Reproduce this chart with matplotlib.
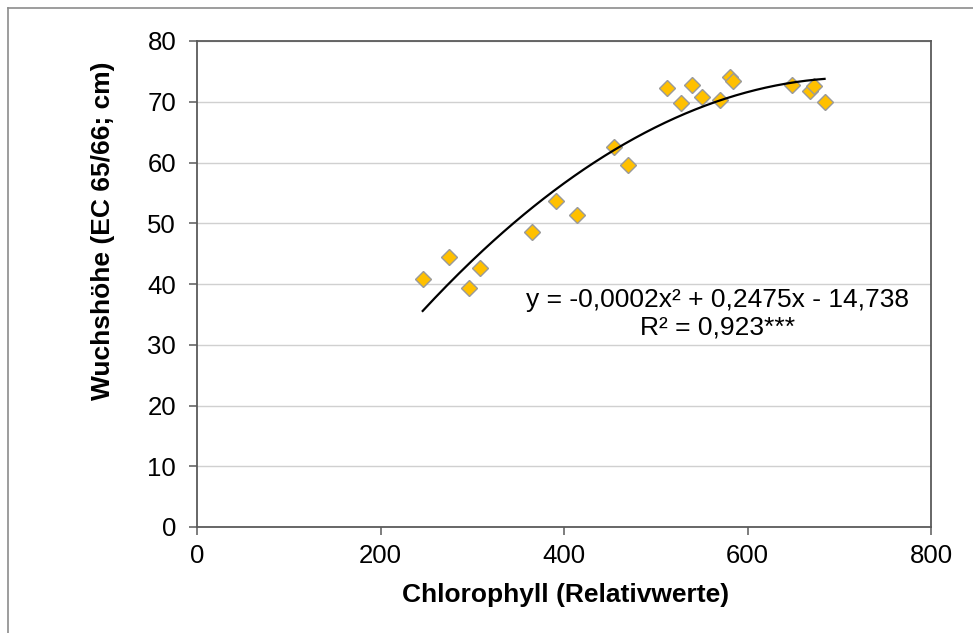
import numpy as np
import matplotlib
matplotlib.use("Agg")
import matplotlib.pyplot as plt
from matplotlib.lines import Line2D

plt.rcParams['font.family'] = ['Liberation Sans', 'DejaVu Sans']

chlorophyll = [246, 275, 296, 308, 365, 391, 414, 454, 470, 512, 527, 540, 550,
               570, 581, 584, 648, 668, 673, 684]
wuchshoehe = [40.9, 44.4, 39.4, 42.6, 48.6, 53.6, 51.3, 62.6, 59.6, 72.3, 69.8,
              72.8, 70.8, 70.3, 74.0, 73.4, 72.8, 71.8, 72.6, 70.0]

x_ticks = [0, 200, 400, 600, 800]
y_ticks = [0, 10, 20, 30, 40, 50, 60, 70, 80]
x_label = "Chlorophyll (Relativwerte)"
y_label = "Wuchshöhe (EC 65/66; cm)"
equation = "y = -0,0002x² + 0,2475x - 14,738"
r2_text = "R² = 0,923***"

W, H = 973, 633
fig = plt.figure(figsize=(W/100, H/100), dpi=100)
ax = fig.add_axes([197/W, 1-527/H, (931-197)/W, (527-41)/H])

# outer chart frame
fig.add_artist(Line2D([8/W, 8/W], [0, 1-8/H], transform=fig.transFigure,
                      color='#8c8c8c', lw=1.2))
fig.add_artist(Line2D([8/W, 1], [1-8/H, 1-8/H], transform=fig.transFigure,
                      color='#8c8c8c', lw=1.2))

ax.set_xlim(0, 800)
ax.set_ylim(0, 80)
ax.set_xticks(x_ticks)
ax.set_yticks(y_ticks)
ax.yaxis.grid(True, color='#d0d0d0', lw=1.0)
ax.set_axisbelow(True)
for s in ax.spines.values():
    s.set_color('#5a5a5a')
    s.set_linewidth(1.3)
ax.tick_params(axis='both', direction='out', length=6, width=1.1, color='#5a5a5a',
               labelsize=18.5)
ax.tick_params(axis='x', pad=6)
ax.tick_params(axis='y', pad=9)

ax.plot(chlorophyll, wuchshoehe, linestyle='none', marker='D', markersize=8.2,
        markerfacecolor='#FFC000', markeredgecolor='#9a9a9a', markeredgewidth=1.0,
        zorder=3)

coef = np.polyfit(chlorophyll, wuchshoehe, 2)
xs = np.linspace(min(chlorophyll), max(chlorophyll), 200)
ax.plot(xs, np.polyval(coef, xs), color='black', lw=1.6, zorder=4)

fig.text(718/W, 1-300/H, equation, fontsize=19, ha='center', va='center')
fig.text(718/W, 1-327/H, r2_text, fontsize=19, ha='center', va='center')

ax.set_xlabel(x_label, fontsize=19, fontweight='bold')
ax.set_ylabel(y_label, fontsize=19, fontweight='bold')
ax.xaxis.set_label_coords((566-197)/734, (527-595)/486)
ax.yaxis.set_label_coords((103-197)/734, (527-231)/486)
ax.xaxis.label.set_va('center')
ax.yaxis.label.set_va('center')

fig.savefig("out.png", dpi=100, facecolor='white')
